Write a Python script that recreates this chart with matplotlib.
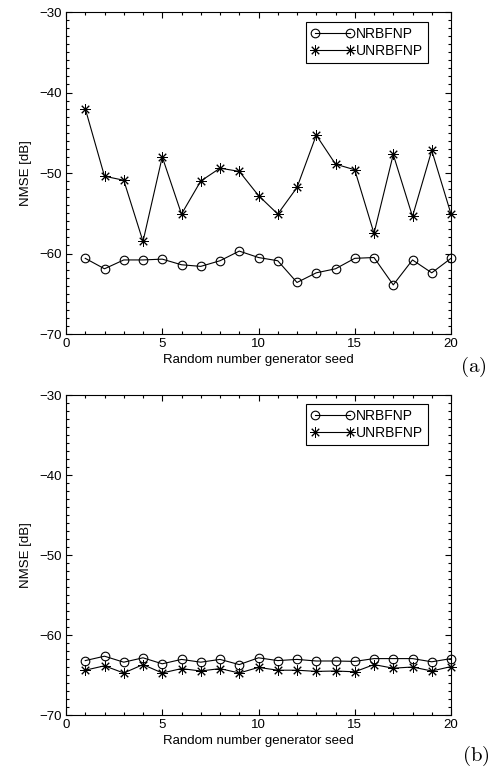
import matplotlib
matplotlib.use("Agg")
import matplotlib.pyplot as plt
from matplotlib.ticker import MultipleLocator

plt.rcParams['font.family'] = ['Liberation Sans', 'DejaVu Sans']
plt.rcParams['mathtext.fontset'] = 'cm'

seeds = list(range(1, 21))

# panel (a)
nrbfnp_a = [-60.6, -61.9, -60.8, -60.8, -60.7, -61.4, -61.6, -60.9, -59.7, -60.5,
            -60.9, -63.6, -62.4, -61.9, -60.6, -60.5, -63.9, -60.8, -62.4, -60.6]
unrbfnp_a = [-42.0, -50.4, -50.9, -58.5, -48.0, -55.1, -51.0, -49.4, -49.8, -52.8,
             -55.1, -51.8, -45.3, -48.9, -49.6, -57.5, -47.7, -55.4, -47.2, -55.1]

# panel (b)
nrbfnp_b = [-63.2, -62.65, -63.4, -62.85, -63.6, -63.05, -63.4, -63.05, -63.7, -62.85,
            -63.2, -63.05, -63.25, -63.25, -63.3, -62.95, -62.95, -62.95, -63.35, -62.95]
unrbfnp_b = [-64.4, -63.85, -64.75, -63.7, -64.75, -64.2, -64.5, -64.2, -64.75, -64.05,
             -64.4, -64.4, -64.55, -64.5, -64.6, -63.7, -64.15, -64.0, -64.5, -63.95]

xlabel = "Random number generator seed"
ylabel = "NMSE [dB]"
labels = ["NRBFNP", "UNRBFNP"]

fig = plt.figure(figsize=(4.92, 7.67), dpi=100)
ax_a = fig.add_axes([66/492, 1-334/767, 385/492, 322/767])
ax_b = fig.add_axes([66/492, 1-715/767, 385/492, 320/767])

star = (8, 2, 0)
fs = 9.5

for ax, n, u, legtop in [(ax_a, nrbfnp_a, unrbfnp_a, 0.969),
                         (ax_b, nrbfnp_b, unrbfnp_b, 0.972)]:
    ax.plot(seeds, n, color='black', lw=0.8, marker='o', markersize=6.2,
            markerfacecolor='none', markeredgecolor='black', markeredgewidth=0.8,
            label=labels[0], clip_on=False, zorder=3)
    ax.plot(seeds, u, color='black', lw=0.8, marker=star, markersize=7.5,
            markeredgewidth=0.7, label=labels[1], clip_on=False, zorder=3)
    ax.set_xlim(0, 20)
    ax.set_ylim(-70, -30)
    ax.xaxis.set_major_locator(MultipleLocator(5))
    ax.xaxis.set_minor_locator(MultipleLocator(1))
    ax.yaxis.set_major_locator(MultipleLocator(10))
    ax.yaxis.set_minor_locator(MultipleLocator(1))
    ax.tick_params(which='both', direction='in', top=True, right=True, labelsize=fs,
                   width=0.8)
    ax.tick_params(which='major', length=4, pad=3)
    ax.tick_params(which='minor', length=2)
    ax.set_yticks([-70, -60, -50, -40, -30])
    ax.set_yticklabels(['\u221270', '\u221260', '\u221250', '\u221240', '\u221230'])
    for s in ax.spines.values():
        s.set_linewidth(0.8)
    ax.set_xlabel(xlabel, fontsize=fs, labelpad=3)
    ax.set_ylabel(ylabel, fontsize=fs, labelpad=5)
    leg = ax.legend(loc='upper right', bbox_to_anchor=(0.940, legtop), fontsize=fs + 0.5,
                    frameon=True, fancybox=False, edgecolor='black', framealpha=1,
                    numpoints=2, handlelength=3.1, handletextpad=0.15, borderpad=0.35,
                    labelspacing=0.25, borderaxespad=0)
    leg.get_frame().set_linewidth(0.8)

fig.text(473/492, 1-367/767, r'$\mathrm{(a)}$', fontsize=15, ha='center', va='center')
fig.text(476/492, 1-756/767, r'$\mathrm{(b)}$', fontsize=15, ha='center', va='center')

fig.savefig('out.png', dpi=100)
